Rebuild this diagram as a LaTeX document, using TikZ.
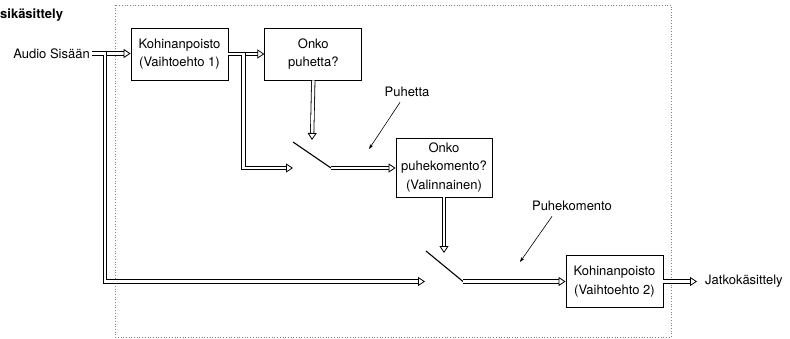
\documentclass[tikz,border=0pt]{standalone}
\usepackage{fontspec}
\setmainfont{TeX Gyre Heros}
\usetikzlibrary{arrows.meta,positioning}

\tikzset{
  box/.style={draw, line width=0.8pt, minimum width=97pt, minimum height=52pt, align=center, inner sep=2pt},
  link/.style={double, double distance=2.6pt, line width=0.8pt, -{Triangle[open, length=7pt, width=9pt, line width=0.8pt]}},
  switch/.style={line width=1.1pt},
  pointer/.style={line width=0.6pt, -{Stealth[length=5pt,width=3.5pt]}},
}

\begin{document}
\begin{tikzpicture}[x=1pt, y=-1pt, font=\fontsize{13}{18.5}\selectfont]
    \useasboundingbox (0,0) rectangle (790,338);
    \draw[gray, dotted, line width=0.7pt] (115,5) rectangle (671,337);

    \node[anchor=west, inner sep=0pt, font=\fontsize{13}{16}\selectfont\bfseries] (title) at (0,15) {sikäsittely};
    \node[anchor=east, inner sep=2pt] (audio) at (92,53.5) {Audio Sisään};

    \node[box] (kohina1) at (179.5,54) {Kohinanpoisto\\(Vaihtoehto 1)};
    \node[box, right=36pt of kohina1] (puhe) {Onko\\puhetta?};
    \node[box, minimum width=96pt, minimum height=59pt] (komento) at (444,167.5) {Onko\\puhekomento?\\(Valinnainen)};
    \node[box] (kohina2) at (614.5,281.5) {Kohinanpoisto\\(Vaihtoehto 2)};
    \node[anchor=west, inner xsep=8pt, inner ysep=0pt] (jatko) at (697,281.5) {Jatkokäsittely};

    \node (lbl1) at (407,92) {Puhetta};
    \node (lbl2) at (572,206) {Puhekomento};

    % switches
    \coordinate (s1a) at (293,142);
    \coordinate (s1b) at (331,168);
    \coordinate (s1in) at (293,168);
    \coordinate (s1ctl) at (312,140);
    \coordinate (s2a) at (426,251);
    \coordinate (s2b) at (463,281.5);
    \coordinate (s2in) at (425,281.5);
    \coordinate (s2ctl) at (444,253);
    \coordinate (p1) at (369,149);
    \coordinate (p2) at (520,262);

    \draw[link] (audio.east) -- (audio.east -| kohina1.west);
    \draw[link] (audio.east) -- ++(13,0) |- (s2in);
    \draw[link] (kohina1.east) -- (puhe.west);
    \draw[link] (kohina1.east) -- ++(15,0) |- (s1in);
    \draw[link] (puhe.south) -- (s1ctl);
    \draw[switch] (s1a) -- (s1b);
    \draw[link] (s1b) -- (s1b -| komento.west);
    \draw[link] (komento.south) -- (s2ctl);
    \draw[switch] (s2a) -- (s2b);
    \draw[link] (s2b) -- (s2b -| kohina2.west);
    \draw[link] (kohina2.east) -- (jatko.west);

    \draw[pointer] (lbl1.south) ++(-7,2) -- (p1);
    \draw[pointer] (lbl2.south) ++(-20,2) -- (p2);
\end{tikzpicture}
\end{document}
